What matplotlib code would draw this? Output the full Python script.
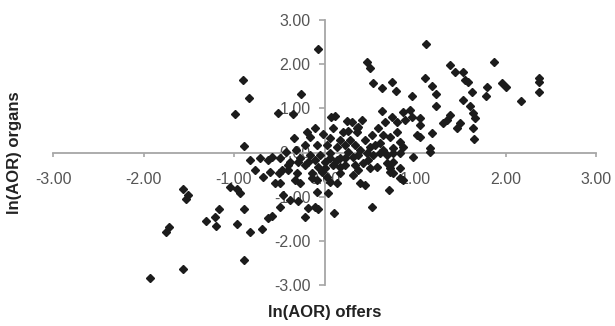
import matplotlib.pyplot as plt
import matplotlib.ticker as mticker

# ln(AOR) values
offers = [
    -1.93, -1.56, -0.89, -1.56, -1.53, -1.51, -1.75, -1.72, -1.31, -1.21,
    -1.20, -1.17, -0.97, -1.04, -0.93, -0.89, -0.82, -0.69, -0.62, -0.58,
    -0.49, -0.46, -0.38, -0.29, -0.22, -0.18, -0.10, -0.07, 0.10, -0.08,
    0.04, 0.52, 0.71, -0.89, -0.90, -0.83, -0.99, -0.51, -0.35, -0.26,
    -0.07, -0.34, -0.19, -0.10, -0.16, -0.08, -0.02, 0.07, 0.12, 0.25,
    0.26, 0.36, 0.06, 0.14, 0.20, -0.82, -0.71, -0.62, -0.58, -0.49,
    -0.40, -0.38, -0.29, -0.27, -0.18, -0.22, -0.10, -0.07, 0.01, 0.06,
    -0.77, -0.68, -0.60, -0.50, -0.47, -0.40, -0.30, -0.33, -0.27, -0.55,
    -0.49, -0.97, -0.14, -0.08, 0.03, 0.06, 0.14, -0.14, -0.03, 0.01,
    0.09, 0.17, 0.14, 0.23, 0.06, -0.05, -0.16, 0.31, 0.37, 0.47,
    0.54, 0.61, 0.69, 0.76, 0.83, 0.98, 1.17, 0.34, 0.43, 0.50,
    0.58, 0.72, 0.76, 0.83, 0.69, 0.31, 0.39, 0.45, 0.72, 0.76,
    0.83, 0.87, 0.17, 0.47, 0.50, 0.54, 0.64, 0.75, 0.79, 0.97,
    1.12, 1.11, 1.19, 1.23, 1.23, 1.39, 1.44, 1.53, 1.55, 1.59,
    1.63, 1.53, 1.61, 1.64, 1.66, 1.64, 1.65, 1.80, 1.78, 1.87,
    1.96, 2.01, 2.17, 2.37, 2.37, 2.37, 1.39, 1.35, 1.31, 1.50,
    1.46, 1.17, 1.19, 1.06, 1.06, 1.06, 0.97, 0.94, 0.87, 0.75,
    0.64, 1.02, 0.80, 0.80, 0.72, 0.65, 0.83, 0.87, 0.61, 0.50,
    0.39, 0.65, 0.76, 0.41, 0.37, 0.67, 0.89, 0.30, 0.36, 0.17,
    0.23, 0.28, 0.34, 0.45, 0.52, 0.56, 0.26, 0.17, 0.03, 0.09,
    0.59, 0.48, 0.23, 0.37, -0.22, -0.31, -0.43,
]
organs = [
    -2.84, -2.64, -2.43, -0.83, -1.05, -0.96, -1.80, -1.69, -1.55, -1.46,
    -1.66, -1.28, -1.62, -0.78, -0.92, -1.28, -1.80, -1.73, -1.48, -1.44,
    -1.23, -0.96, -1.07, -1.10, -1.46, -1.26, -1.23, -1.28, -1.37, -0.89,
    -0.92, -1.23, -0.85, 0.15, 1.64, 1.23, 0.87, 0.89, 0.87, 1.32,
    2.34, 0.33, 0.46, 0.55, 0.35, 0.17, 0.42, 0.80, 0.83, 0.71,
    0.49, 0.55, 0.33, 0.12, 0.46, -0.17, -0.12, -0.17, -0.10, -0.12,
    -0.28, -0.21, -0.21, -0.12, -0.21, -0.28, -0.17, -0.33, -0.21, -0.12,
    -0.40, -0.55, -0.44, -0.46, -0.40, -0.40, -0.46, -0.62, -0.69, -0.69,
    -0.69, -0.83, -0.58, -0.62, -0.55, -0.67, -0.69, -0.46, -0.44, -0.35,
    -0.28, -0.33, -0.17, -0.12, -0.01, -0.06, -0.06, -0.10, -0.06, -0.01,
    -0.06, -0.01, -0.06, -0.01, -0.01, -0.10, 0.01, -0.28, -0.24, -0.35,
    -0.33, -0.35, -0.21, -0.35, -0.24, -0.51, -0.69, -0.74, -0.44, -0.46,
    -0.58, -0.62, -0.46, 2.05, 1.91, 1.57, 1.46, 1.59, 1.39, 1.28,
    2.45, 1.69, 1.50, 1.32, 1.05, 1.98, 1.82, 1.82, 1.64, 1.59,
    1.37, 1.19, 1.05, 0.89, 0.78, 0.55, 0.31, 1.48, 1.28, 2.05,
    1.57, 1.48, 1.16, 1.69, 1.59, 1.37, 0.85, 0.74, 0.67, 0.67,
    0.55, 0.10, 0.44, 0.35, 0.62, 0.78, 0.80, 0.96, 0.92, 0.80,
    0.94, 0.40, 0.69, 0.46, 0.35, 0.40, 0.24, 0.12, 0.21, 0.12,
    0.06, 0.06, 0.10, 0.74, 0.58, 0.69, 0.74, 0.69, 0.46, 0.28,
    0.17, 0.28, 0.17, 0.28, 0.40, 0.17, 0.01, -0.12, 0.17, 0.55,
    0.55, -0.17, -0.28, -0.40, 0.17, 0.06, 0.01,
]
ticks = [-3, -2, -1, 0, 1, 2, 3]

plt.rcParams['font.family'] = ['Liberation Sans', 'DejaVu Sans']

fig = plt.figure(figsize=(6.15, 3.26), dpi=100)
ax = fig.add_axes([53 / 615, 1 - 285 / 326, 543 / 615, 265 / 326])

ax.plot(offers, organs, ls='none', marker='D', markersize=4.0,
        color='#1c1c1c', clip_on=False, zorder=3)

ax.set_xlim(-3, 3)
ax.set_ylim(-3, 3)
ax.set_xticks(ticks)
ax.set_yticks(ticks)
fmt = mticker.FormatStrFormatter('%.2f')
ax.xaxis.set_major_formatter(fmt)
ax.yaxis.set_major_formatter(fmt)

# Excel style axes crossing at the origin
ax.spines['left'].set_position('zero')
ax.spines['bottom'].set_position('zero')
ax.spines['right'].set_visible(False)
ax.spines['top'].set_visible(False)
for s in ('left', 'bottom'):
    ax.spines[s].set_color('#a6a6a6')
    ax.spines[s].set_linewidth(1.3)

ax.tick_params(axis='x', direction='out', length=3, width=1.2,
               color='#a6a6a6', pad=11, labelsize=11.5, labelcolor='#555555')
ax.tick_params(axis='y', direction='out', length=4, width=1.2,
               color='#a6a6a6', pad=6, labelsize=11.5, labelcolor='#555555')
for lab in ax.get_xticklabels() + ax.get_yticklabels():
    lab.set_zorder(2)

fig.text(325 / 615, 1 - 313 / 326, 'ln(AOR) offers', ha='center', va='center',
         fontsize=12, fontweight='bold', color='#222222')
fig.text(15 / 615, 1 - 153 / 326, 'ln(AOR) organs', ha='center', va='center',
         rotation=90, fontsize=12, fontweight='bold', color='#222222')

fig.savefig('out.png', dpi=100)
